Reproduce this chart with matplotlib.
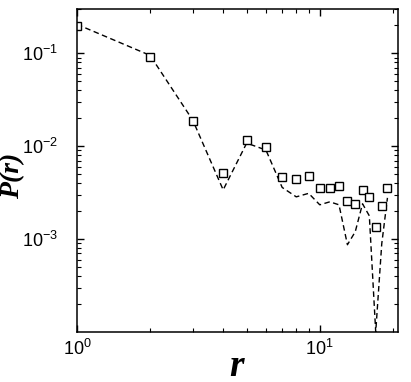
import numpy as np
import matplotlib
matplotlib.use("Agg")
import matplotlib.pyplot as plt
from matplotlib.ticker import LogLocator, NullFormatter

plt.rcParams['font.family'] = ['Liberation Sans', 'DejaVu Sans']
plt.rcParams['mathtext.fontset'] = 'custom'
plt.rcParams['mathtext.rm'] = 'Liberation Sans'
plt.rcParams['mathtext.it'] = 'Liberation Sans:italic'
plt.rcParams['mathtext.bf'] = 'Liberation Sans:bold'

# distance r and measured probabilities (squares)
r = [1, 2, 3, 4, 5, 6, 7, 8, 9, 10, 11, 12, 13, 14, 15, 16, 17, 18, 19]
p_data = [0.197, 0.0913, 0.0187, 0.00516, 0.0117, 0.0098, 0.00468, 0.00445,
          0.0048, 0.00356, 0.00356, 0.00374, 0.00258, 0.0024, 0.00339,
          0.00285, 0.00136, 0.00228, 0.00356]
# model curve (dashed)
p_model = [0.205, 0.095, 0.019, 0.00339, 0.0108, 0.0091, 0.0036, 0.00285,
           0.00311, 0.00234, 0.00252, 0.00234, 0.00087, 0.0012, 0.0024,
           0.00178, 0.0001, 0.00089, 0.00278]

fig = plt.figure(figsize=(4.11, 3.82), dpi=100)
ax = fig.add_axes([77 / 411, 1 - 332 / 382, 321 / 411, 323 / 382])

ax.plot(r, p_model, color='black', linestyle=(0, (4, 2.5)), linewidth=1.0)
ax.plot(r, p_data, linestyle='none', marker='s', markersize=5.5,
        markerfacecolor='white', markeredgecolor='black', markeredgewidth=1.0)

ax.set_xscale('log')
ax.set_yscale('log')
ax.set_xlim(1, 21)
ax.set_ylim(1e-4, 0.3)

ax.yaxis.set_major_locator(LogLocator(base=10, subs=[1.0]))
ax.set_yticks([1e-1, 1e-2, 1e-3])
ax.xaxis.set_minor_formatter(NullFormatter())
ax.yaxis.set_minor_formatter(NullFormatter())

ax.tick_params(which='both', direction='in', top=True, right=True, labelsize=13)
ax.tick_params(which='major', length=5, width=1.0)
ax.tick_params(which='minor', length=3, width=0.8)
ax.tick_params(axis='x', pad=5)
ax.tick_params(axis='y', pad=14)
for s in ax.spines.values():
    s.set_linewidth(1.1)

fig.text(237 / 411, 1 - 366 / 382, 'r', fontsize=27, family='Liberation Serif',
         fontweight='bold', fontstyle='italic', ha='center', va='center')
fig.text(13 / 411, 1 - 176 / 382, 'P(r)', fontsize=20, family='Liberation Serif',
         fontweight='bold', fontstyle='italic', ha='center', va='center',
         rotation=90)

fig.savefig('out.png', dpi=100)
